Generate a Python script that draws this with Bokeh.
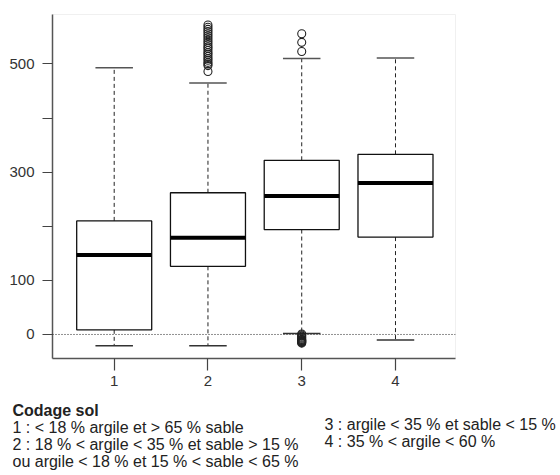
from bokeh.plotting import figure
from bokeh.layouts import column
from bokeh.models import FixedTicker, Span, ColumnDataSource, Range1d
from bokeh.core.properties import value
from bokeh.embed import file_html
from bokeh.resources import INLINE

# ---- data ----
categories = [1, 2, 3, 4]
lower_whisker = [-21, -21, 2, -10]
q1 = [8.6, 126, 194, 180]
median = [147, 179, 256, 280]
q3 = [210, 262, 322, 333]
upper_whisker = [493, 465, 510, 511]

out_cat = [2] * 22 + [3] * 16
out_val = [486, 497, 500, 503, 507, 510, 514, 518, 521, 525, 529, 532, 536,
           540, 544, 548, 552, 556, 560, 564, 568, 572,
           523, 540, 556,
           1, -1, -3, -5, -7, -9, -10, -11, -12, -13, -14, -15, -16]

y_ticks = [0, 100, 200, 300, 400, 500]
y_tick_labels = {200: "", 400: ""}
x_ticks = [1, 2, 3, 4]

legend_title = "Codage sol"
legend_left = ["1 : < 18 % argile et > 65 % sable",
               "2 : 18 % < argile < 35 % et sable > 15 %",
               "ou argile < 18 % et 15 % < sable < 65 %"]
legend_right = ["3 : argile < 35 % et sable < 15 %",
                "4 : 35 % < argile < 60 %"]

FONT = "Liberation Sans"

p = figure(width=560, height=395, x_range=(0.342, 4.64), y_range=(-44.4, 591.5),
           output_backend="svg", toolbar_location=None,
           min_border_left=52, min_border_right=105, min_border_top=14, min_border_bottom=37)
p.frame_align = False
p.xgrid.visible = False
p.ygrid.visible = False
p.outline_line_color = "#f0f0f0"

src = ColumnDataSource(dict(x=categories, lw=lower_whisker, q1=q1, med=median, q3=q3, uw=upper_whisker,
                            xl=[c - 0.4 for c in categories], xr=[c + 0.4 for c in categories],
                            cl=[c - 0.2 for c in categories], cr=[c + 0.2 for c in categories]))

# zero line
p.add_layout(Span(location=0, dimension="width", line_color="#222", line_dash="1 2", line_width=1))

# whiskers
p.segment(x0="x", y0="q3", x1="x", y1="uw", source=src, line_color="#222", line_dash="4 3", line_width=1)
p.segment(x0="x", y0="q1", x1="x", y1="lw", source=src, line_color="#222", line_dash="4 3", line_width=1)
# caps
p.segment(x0="cl", y0="uw", x1="cr", y1="uw", source=src, line_color="#555", line_width=1.5)
p.segment(x0="cl", y0="lw", x1="cr", y1="lw", source=src, line_color="#333", line_width=1.5)
# boxes
p.quad(left="xl", right="xr", bottom="q1", top="q3", source=src, fill_color="white",
       line_color="#111", line_width=1.3)
# medians
p.segment(x0="xl", y0="med", x1="xr", y1="med", source=src, line_color="black", line_width=4)
# outliers
p.scatter(out_cat, out_val, size=8, marker="circle", fill_color=None, line_color="#222", line_width=1.1)

# axes
for ax in (p.xaxis[0], p.yaxis[0]):
    ax.axis_line_color = "#555"
    ax.axis_line_width = 1.5
    ax.major_tick_line_color = "#444"
    ax.major_tick_line_width = 1.2
    ax.minor_tick_line_color = None
    ax.major_label_text_font = FONT
    ax.major_label_text_font_size = "15px"
    ax.major_label_text_color = "#333"

p.yaxis.ticker = FixedTicker(ticks=y_ticks)
p.yaxis.major_label_overrides = y_tick_labels
p.yaxis.major_tick_out = 10
p.yaxis.major_tick_in = 0
p.yaxis.major_label_standoff = 8

p.xaxis.ticker = FixedTicker(ticks=x_ticks)
p.xaxis.major_tick_out = 12
p.xaxis.major_tick_in = 0
p.xaxis.major_label_standoff = 5

# ---- legend panel below (pixel-like coordinates, y downward) ----
q = figure(width=560, height=80, x_range=Range1d(0, 560), y_range=Range1d(80, 0),
           output_backend="svg", toolbar_location=None, x_axis_type=None, y_axis_type=None,
           min_border=0, min_border_left=0, min_border_right=0, min_border_top=0, min_border_bottom=0)
q.frame_align = False
q.xgrid.visible = False
q.ygrid.visible = False
q.outline_line_color = None

title_x, title_y = [12], [15]
left_x = [12] * len(legend_left)
left_y = [32 + 17 * i for i in range(len(legend_left))]
right_x = [324] * len(legend_right)
right_y = [29 + 17 * i for i in range(len(legend_right))]

q.text(x=title_x, y=title_y, text=[legend_title], text_font=value(FONT), text_font_size=value("16px"),
       text_font_style="bold", text_color="#222", text_baseline="middle")
q.text(x=left_x, y=left_y, text=legend_left, text_font=value(FONT), text_font_size=value("16px"),
       text_color="#222", text_baseline="middle")
q.text(x=right_x, y=right_y, text=legend_right, text_font=value(FONT), text_font_size=value("16px"),
       text_color="#222", text_baseline="middle")

layout = column(p, q, spacing=0)
open("out.html", "w").write(file_html(layout, INLINE))
